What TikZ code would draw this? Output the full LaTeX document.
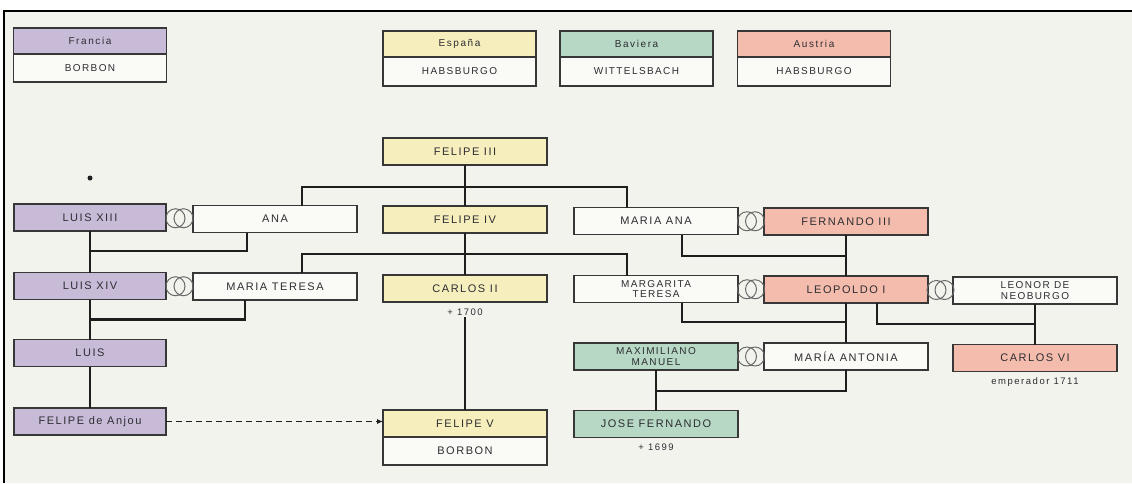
\documentclass[tikz,border=0pt]{standalone}
\usepackage{fontspec}
\newfontfamily\boxfont[LetterSpace=14]{Liberation Sans}
\newfontfamily\notefont[LetterSpace=16]{Liberation Sans}
\usetikzlibrary{positioning,calc,arrows.meta}

\definecolor{bg}{RGB}{243,243,238}
\definecolor{boxwhite}{RGB}{250,250,247}
\definecolor{boxline}{RGB}{55,55,55}
\definecolor{kin}{RGB}{30,30,30}
\definecolor{txt}{RGB}{45,45,50}
\definecolor{ringcol}{RGB}{105,105,105}
\definecolor{frcol}{RGB}{200,187,216}
\definecolor{escol}{RGB}{246,238,188}
\definecolor{bvcol}{RGB}{182,216,196}
\definecolor{aucol}{RGB}{244,188,172}

\tikzset{
  person/.style={draw=boxline, line width=1.2pt, fill=boxwhite, outer sep=0pt,
    minimum width=164pt, minimum height=27pt, inner sep=0pt, align=center,
    text=txt, font=\boxfont\fontsize{11}{11}\selectfont},
  twoline/.style={font=\boxfont\fontsize{10}{10.5}\selectfont},
  fr/.style={person, minimum width=152pt, fill=frcol},
  es/.style={person, fill=escol},
  bv/.style={person, fill=bvcol},
  au/.style={person, fill=aucol},
  legtop/.style={person, minimum width=153pt, minimum height=26pt,
    font=\notefont\fontsize{10}{10}\selectfont},
  legbot/.style={person, minimum width=153pt, minimum height=29pt,
    font=\boxfont\fontsize{10}{10}\selectfont},
  famline/.style={draw=kin, line width=2.6pt},
  ringline/.style={draw=ringcol, line width=1pt},
  note/.style={text=txt, inner sep=1pt, font=\notefont\fontsize{9.5}{9.5}\selectfont}
}

% marriage sign between two boxes
\newcommand{\rings}[2]{%
  \coordinate (mid) at ($(#1.east)!0.5!(#2.west)$);
  \draw[ringline] ([xshift=-4pt]mid) circle (9.5pt) ([xshift=4pt]mid) circle (9.5pt);}

\begin{document}
\begin{tikzpicture}[x=1pt,y=-1pt]
\useasboundingbox (0,0) rectangle (1132,483);
\fill[bg] (4,11) rectangle (1132,483);
\draw[line width=1.6pt] (4,483) -- (4,11) -- (1132,11);

% legend
\node[legtop, fill=frcol] (legfr) at (90,41) {Francia};
\node[legbot, minimum height=28pt, below=0pt of legfr] (legfrb) {BORBON};
\node[legtop, fill=escol] (leges) at (459.5,44) {España};
\node[legbot, below=0pt of leges] (legesb) {HABSBURGO};
\node[legtop, fill=bvcol] (legbv) at (636.5,44) {Baviera};
\node[legbot, below=0pt of legbv] (legbvb) {WITTELSBACH};
\node[legtop, fill=aucol] (legau) at (814,44) {Austria};
\node[legbot, below=0pt of legau] (legaub) {HABSBURGO};

% France
\node[fr] (luis13) at (90,217.5) {LUIS XIII};
\node[fr] (luis14) at (90,286) {LUIS XIV};
\node[fr] (luis) at (90,353) {LUIS};
\node[fr] (anjou) at (90,421.5) {FELIPE de Anjou};
\node[person] (ana) at (275,219) {ANA};
\node[person] (mteresa) at (275,286.5) {MARIA TERESA};
\fill[kin] (90,178) circle (2.5pt);

% Spain
\node[es] (fel3) at (465,151.5) {FELIPE III};
\node[es] (fel4) at (465,219.5) {FELIPE IV};
\node[es] (carlos2) at (465,288.5) {CARLOS II};
\node[note, below=6pt of carlos2] (d1700) {+ 1700};
\node[es] (felv) at (465,423.5) {FELIPE V};
\node[person, minimum height=28pt, below=0pt of felv] (felvb) {BORBON};
\node[person] (mana) at (656,221) {MARIA ANA};
\node[person, twoline] (margarita) at (656,289) {MARGARITA\\TERESA};

% Bavaria
\node[bv, twoline] (maxim) at (656,356.5) {MAXIMILIANO\\MANUEL};
\node[bv] (josef) at (656,424) {JOSE FERNANDO};
\node[note, below=5pt of josef] (d1699) {+ 1699};

% Austria
\node[au] (fern3) at (846,221.5) {FERNANDO III};
\node[au] (leop) at (846,289.5) {LEOPOLDO I};
\node[person] (mantonia) at (846,356.5) {MARÍA ANTONIA};
\node[person, twoline] (leonor) at (1035,290.5) {LEONOR DE\\NEOBURGO};
\node[au] (carlos6) at (1035,358) {CARLOS VI};
\node[note, below=5pt of carlos6] (emp) {emperador 1711};

% descent
\draw[famline] (fel3.south) -- (fel4.north);
\draw[famline] ([xshift=27pt]ana.north) |- ([yshift=-22pt]fel3.south) -| ([xshift=-29pt]mana.north);
\draw[famline] (fel4.south) -- (carlos2.north);
\draw[famline] ([xshift=27pt]mteresa.north) |- ([yshift=-21pt]fel4.south) -| ([xshift=-29pt]margarita.north);
\draw[famline] (luis13.south) -- (luis14.north);
\draw[famline] ([xshift=-28pt]ana.south) |- ([yshift=-20pt]luis13.south);
\draw[famline] (luis14.south) -- (luis.north);
\draw[famline] ([xshift=-30pt]mteresa.south) |- ([yshift=-20pt]luis14.south);
\draw[famline] (luis.south) -- (anjou.north);
\draw[famline] (d1700.south) -- (felv.north);
\draw[famline] (fern3.south) -- (leop.north);
\draw[famline] ([xshift=26pt]mana.south) |- ([yshift=-21pt]fern3.south);
\draw[famline] (leop.south) -- (mantonia.north);
\draw[famline] ([xshift=26pt]margarita.south) |- ([yshift=-19pt]leop.south);
\draw[famline] (leonor.south) -- (carlos6.north);
\draw[famline] ([xshift=31pt]leop.south) |- ([yshift=-20pt]leonor.south);
\draw[famline] (maxim.south) -- (josef.north);
\draw[famline] (mantonia.south) |- ([yshift=-21pt]maxim.south);
\draw[draw=kin, line width=0.9pt, dash pattern=on 6pt off 4pt, -{Latex[length=6pt,width=5pt]}]
  (anjou.east) -- (anjou.east -| felv.west);

% marriages
\rings{luis13}{ana}
\rings{luis14}{mteresa}
\rings{mana}{fern3}
\rings{margarita}{leop}
\rings{leop}{leonor}
\rings{maxim}{mantonia}
\end{tikzpicture}
\end{document}
